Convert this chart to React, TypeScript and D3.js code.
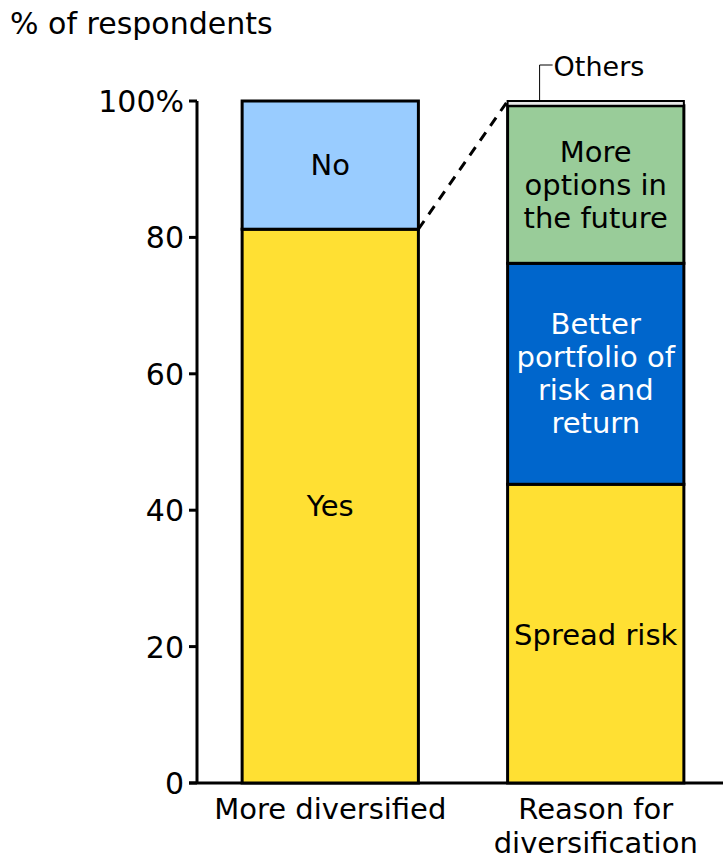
import React from "react";
import * as d3 from "d3";

const categories = ["More diversified", "Reason for diversification"];
const categoryLines = [["More diversified"], ["Reason for", "diversification"]];
const bar1Segments = ["Yes", "No"];
const bar1Values = [81.2, 18.8];
const bar1Labels = [["Yes"], ["No"]];
const bar2Segments = ["Spread risk", "Better portfolio", "More options", "Others"];
const bar2Values = [43.8, 32.4, 23.1, 0.7];
const bar2Labels = [["Spread risk"], ["Better", "portfolio of", "risk and", "return"], ["More", "options in", "the future"], []];
const yTicks = [0, 20, 40, 60, 80, 100];
const yTickLabels = ["0", "20", "40", "60", "80", "100%"];

const colors1 = ["#FFE033", "#99CCFF"];
const colors2 = ["#FFE033", "#0066CC", "#99CC99", "#E8E8E8"];
const textColors2 = ["#000", "#fff", "#000", "#000"];

const W = 723;
const H = 859;
const FONT = "DejaVu Sans, Verdana, sans-serif";

export default function App() {
  const y = d3.scaleLinear().domain([0, 100]).range([783, 101]);
  const x = d3.scaleBand().domain(categories).range([197, 729]).paddingInner(0.336).paddingOuter(0.17);
  const bw = x.bandwidth();

  const stack = (vals: number[]) => {
    let acc = 0;
    return vals.map((v) => {
      const s = { y0: acc, y1: acc + v };
      acc += v;
      return s;
    });
  };
  const s1 = stack(bar1Values);
  const s2 = stack(bar2Values);
  const x1 = x(categories[0])!;
  const x2 = x(categories[1])!;
  const lineH = 33;

  const renderLabel = (lines: string[], cx: number, cy: number, fill: string, key: string) => (
    <text key={key} x={cx} textAnchor="middle" fontFamily={FONT} fontSize={29} fill={fill}>
      {lines.map((l, i) => (
        <tspan key={i} x={cx} y={cy + (i - (lines.length - 1) / 2) * lineH + 10}>
          {l}
        </tspan>
      ))}
    </text>
  );

  return (
    <svg width={W} height={H} style={{ position: "absolute", left: 0, top: 0, background: "#fff" }}>
      <rect x={0} y={0} width={W} height={H} fill="#fff" />
      <text x={10} y={34} fontFamily={FONT} fontSize={30} fill="#000">% of respondents</text>

      {/* axis */}
      <line x1={197} x2={197} y1={y(100)} y2={y(0)} stroke="#000" strokeWidth={3} />
      <line x1={189} x2={723} y1={y(0)} y2={y(0)} stroke="#000" strokeWidth={3} />
      {yTicks.map((t, i) => (
        <g key={t}>
          <line x1={189} x2={197} y1={y(t)} y2={y(t)} stroke="#000" strokeWidth={3} />
          <text x={184} y={y(t) + 11} textAnchor="end" fontFamily={FONT} fontSize={30} fill="#000">
            {yTickLabels[i]}
          </text>
        </g>
      ))}

      {/* bar 1 */}
      {s1.map((s, i) => (
        <rect key={"b1" + i} x={x1} y={y(s.y1)} width={bw} height={y(s.y0) - y(s.y1)} fill={colors1[i]} stroke="#000" strokeWidth={3} />
      ))}
      {s1.map((s, i) => renderLabel(bar1Labels[i], x1 + bw / 2, (y(s.y0) + y(s.y1)) / 2, "#000", "l1" + i))}

      {/* bar 2 */}
      {s2.map((s, i) => (
        <rect key={"b2" + i} x={x2} y={y(s.y1)} width={bw} height={y(s.y0) - y(s.y1)} fill={colors2[i]} stroke="#000" strokeWidth={i === 3 ? 2 : 3} />
      ))}
      {s2.map((s, i) => {
        if (!bar2Labels[i].length) return null;
        let cy = (y(s.y0) + y(s.y1)) / 2;
        if (i === 0) cy = y(21.7);
        return renderLabel(bar2Labels[i], x2 + bw / 2, cy, textColors2[i], "l2" + i);
      })}

      {/* dashed connector */}
      <line x1={x1 + bw} y1={y(s1[0].y1)} x2={x2} y2={y(100)} stroke="#000" strokeWidth={3} strokeDasharray="10,8" />

      {/* Others leader */}
      <polyline points={`${x2 + 32},${y(100)} ${x2 + 32},${y(100) - 36} ${x2 + 45},${y(100) - 36}`} fill="none" stroke="#000" strokeWidth={1} />
      <text x={x2 + 46} y={76} fontFamily={FONT} fontSize={27} fill="#000">{bar2Segments[3]}</text>

      {/* category labels */}
      {categoryLines.map((lines, i) => (
        <text key={"c" + i} textAnchor="middle" fontFamily={FONT} fontSize={29} fill="#000">
          {lines.map((l, j) => (
            <tspan key={j} x={x(categories[i])! + bw / 2} y={819 + j * 34}>{l}</tspan>
          ))}
        </text>
      ))}
    </svg>
  );
}
